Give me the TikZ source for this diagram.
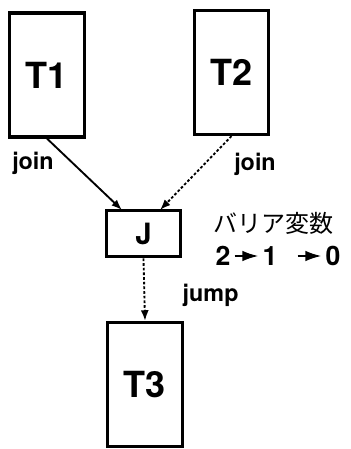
\documentclass[tikz,border=0pt]{standalone}
\usepackage{fontspec}
\setmainfont{TeX Gyre Heros}
\newfontfamily\jpfont{Noto Sans CJK JP}
\usetikzlibrary{arrows.meta}
\tikzset{
  task/.style={draw, line width=2.4pt, minimum width=56pt, minimum height=93pt, inner sep=0pt, font=\bfseries\fontsize{27}{27}\selectfont},
  lbl/.style={font=\bfseries\fontsize{17.5}{17.5}\selectfont},
  flow/.style={line width=1.4pt, -{Latex[length=8pt,width=6pt]}},
  dots/.style={flow, dash pattern=on 2pt off 1.5pt}
}

\begin{document}
\begin{tikzpicture}[x=0.75pt, y=-0.75pt]
    \useasboundingbox[fill=white] (0,0) rectangle (350,449);
    % threads and the join point
    \node[task] (t1) at (47,75) {T1};
    \node[task] (t2) at (231.5,72.5) {T2};
    \node[task, minimum height=35pt, font=\bfseries\fontsize{22}{22}\selectfont] (j) at (143.5,233.5) {J};
    \node[task] (t3) at (145,384.5) {T3};
    \coordinate (jl) at (122,210); \coordinate (jr) at (160,210);
    \draw[flow] (t1.south) -- (jl);
    \draw[dots] (t2.south) -- (jr);
    \draw[dots] (j.south) -- (t3.north);
    \node[lbl] at (33,163) {join};
    \node[lbl] at (255,164) {join};
    \node[lbl, anchor=west] at (178,295) {jump};
    % barrier counter
    \node[anchor=west, inner sep=0pt, font=\jpfont\fontsize{18}{18}\selectfont] (bv) at (213,223) {バリア変数};
    \foreach \v/\x in {2/223,1/270,0/333}
      \node[inner sep=0pt, font=\bfseries\fontsize{20}{20}\selectfont] (c\v) at (\x,256) {\v};
    \draw[flow, -{Latex[length=12pt,width=8pt]}] ([xshift=3pt]c2.east) -- ([xshift=-3pt]c1.west);
    \draw[flow, -{Latex[length=12pt,width=8pt]}] ([xshift=15pt]c1.east) -- ([xshift=-3pt]c0.west);
\end{tikzpicture}
\end{document}
